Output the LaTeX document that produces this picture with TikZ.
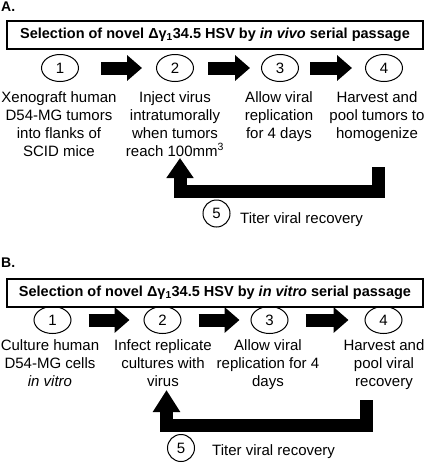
\documentclass[tikz,border=0pt]{standalone}
\usepackage{fontspec}
\setmainfont{Liberation Sans}
\usetikzlibrary{arrows.meta,shapes.geometric}
\tikzset{
  stepnum/.style={draw,ellipse,line width=1pt,minimum width=37pt,minimum height=27pt,inner sep=0pt},
  titlebox/.style={draw,line width=1.2pt,minimum width=416pt,minimum height=28pt,inner sep=0pt,font=\fontsize{14.5}{17}\selectfont\bfseries},
  steptext/.style={align=center,anchor=north,inner sep=0pt},
  panel/.style={anchor=north west,inner sep=0pt,font=\fontsize{14}{16}\selectfont\bfseries},
  blockarrow/.style={line width=13pt,-{Triangle[width=25pt,length=15pt]}},
}
\begin{document}
\begin{tikzpicture}[x=1pt,y=-1pt,font=\fontsize{15}{18}\selectfont]
	\useasboundingbox (0,0) rectangle (425,474);
	% panel A
	\node[panel] (labA) at (1,2) {A.};
	\node[titlebox] (titA) at (215,35) {Selection of novel Δγ\textsubscript{1}34.5 HSV by \textit{in vivo} serial passage};
	\foreach \n/\x in {1/60,2/175,3/280,4/384}
		\node[stepnum] (a\n) at (\x,68) {\n};
	\foreach \i/\j/\s/\e in {1/2/22pt/14pt,2/3/14pt/11pt,3/4/11pt/13pt}
		\draw[blockarrow,shorten <=\s,shorten >=\e] (a\i) -- (a\j);
	\node[steptext] (ta1) at (59,91) {Xenograft human\\D54-MG tumors\\into flanks of\\SCID mice};
	\node[steptext] (ta2) at (175,91) {Inject virus\\intratumorally\\when tumors\\reach 100mm\textsuperscript{3}};
	\node[steptext] (ta3) at (279,91) {Allow viral\\replication\\for 4 days};
	\node[steptext] (ta4) at (377,91) {Harvest and\\pool tumors to\\homogenize};
	\coordinate (fa4) at (378.5,167);
	\coordinate (fa2) at (180,158);
	\draw[blockarrow,-{Triangle[width=26pt,length=20pt]}] (fa4) -- ++(0,24.5) -| (fa2);
	\node[draw,circle,line width=1pt,minimum size=27pt,inner sep=0pt] (a5) at (216.5,213.5) {5};
	\node[anchor=base west,inner sep=0pt] (ra5) at (240,223) {Titer viral recovery};
	% panel B
	\node[panel] (labB) at (1,258) {B.};
	\node[titlebox] (titB) at (215,293) {Selection of novel Δγ\textsubscript{1}34.5 HSV by \textit{in vitro} serial passage};
	\foreach \n/\x in {1/52.5,2/162.5,3/269.5,4/383.5}
		\node[stepnum] (b\n) at (\x,320) {\n};
	\foreach \i/\j/\s/\e in {1/2/17pt/14pt,2/3/17pt/11pt,3/4/17pt/16pt}
		\draw[blockarrow,shorten <=\s,shorten >=\e] (b\i) -- (b\j);
	\node[steptext] (tb1) at (50,339) {Culture human\\D54-MG cells\\\textit{in vitro}};
	\node[steptext] (tb2) at (163,339) {Infect replicate\\cultures with\\virus};
	\node[steptext] (tb3) at (268,339) {Allow viral\\replication for 4\\days};
	\node[steptext] (tb4) at (384,339) {Harvest and\\pool viral\\recovery};
	\coordinate (fb4) at (366,400);
	\coordinate (fb2) at (166.5,390);
	\draw[blockarrow,-{Triangle[width=26pt,length=22pt]}] (fb4) -- ++(0,25.5) -| (fb2);
	\node[draw,circle,line width=1pt,minimum size=27pt,inner sep=0pt] (b5) at (181,448) {5};
	\node[anchor=base west,inner sep=0pt] (rb5) at (212,455) {Titer viral recovery};
\end{tikzpicture}
\end{document}
